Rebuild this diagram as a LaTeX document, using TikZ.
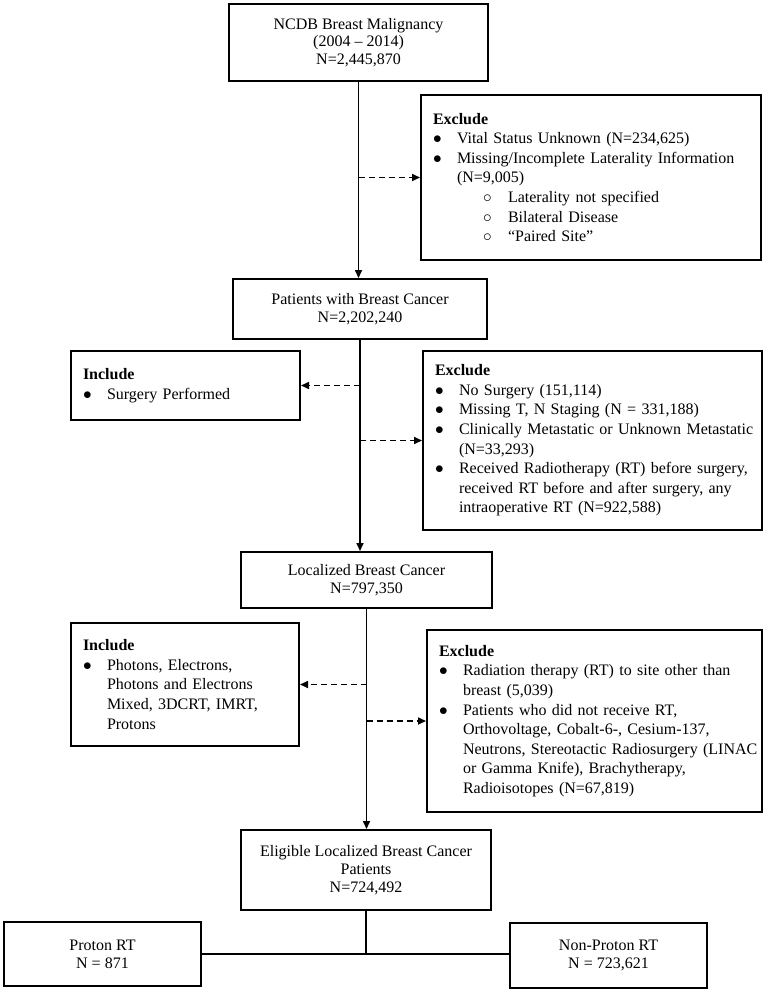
\documentclass[tikz,border=0pt]{standalone}
\usepackage{fontspec}
\setmainfont{Liberation Serif}
\usepackage{tikz}
\usetikzlibrary{positioning}
\usetikzlibrary{arrows.meta}

\newcommand{\itm}[1]{\makebox[24pt][l]{$\bullet$}\mbox{#1}}
\newcommand{\cnt}[1]{\hspace*{24pt}\mbox{#1}}
\newcommand{\subitm}[1]{\makebox[75pt][l]{\hspace*{50pt}$\circ$}\mbox{#1}}

\tikzset{
	mainbox/.style={draw, line width=2pt, align=center, inner sep=0pt, font=\fontsize{16}{17.8}\selectfont},
	listbox/.style={draw, line width=2pt, align=left, inner xsep=12pt, inner ysep=0pt, font=\fontsize{16}{19.6}\selectfont},
	flow/.style={line width=1.6pt, -{Triangle[length=8pt,width=7pt]}},
	side/.style={line width=1.6pt, dash pattern=on 6pt off 4pt, -{Triangle[length=8pt,width=7pt]}},
}

\begin{document}
\begin{tikzpicture}[x=1pt, y=-1pt]
				\useasboundingbox (0,0) rectangle (763,992);
				
				\node[mainbox, minimum width=259pt, minimum height=77pt] (ncdb) at (358.5,42.5) {NCDB Breast Malignancy\\(2004 -- 2014)\\N=2,445,870};
				\node[listbox, text width=316pt, minimum height=165pt] (excl1) at (591,177.5) {\textbf{Exclude}\\
					\itm{Vital Status Unknown (N=234,625)}\\
					\itm{Missing/Incomplete Laterality Information}\\
					\cnt{(N=9,005)}\\
					\subitm{Laterality not specified}\\
					\subitm{Bilateral Disease}\\
					\subitm{``Paired Site''}};
				\node[mainbox, minimum width=254pt, minimum height=60pt] (patients) at (360,309) {Patients with Breast Cancer\\N=2,202,240};
				\node[listbox, text width=205pt, minimum height=69pt] (incl1) at (185.5,385.5) {\textbf{Include}\\
					\itm{Surgery Performed}};
				\node[listbox, text width=315pt, minimum height=179pt] (excl2) at (592.5,440.5) {\textbf{Exclude}\\
					\itm{No Surgery (151,114)}\\
					\itm{Missing T, N Staging (N = 331,188)}\\
					\itm{Clinically Metastatic or Unknown Metastatic}\\
					\cnt{(N=33,293)}\\
					\itm{Received Radiotherapy (RT) before surgery,}\\
					\cnt{received RT before and after surgery, any}\\
					\cnt{intraoperative RT (N=922,588)}};
				\node[mainbox, minimum width=251pt, minimum height=56pt] (localized) at (366.5,580) {Localized Breast Cancer\\N=797,350};
				\node[listbox, text width=204pt, minimum height=123pt] (incl2) at (185,684.5) {\textbf{Include}\\
					\itm{Photons, Electrons,}\\
					\cnt{Photons and Electrons}\\
					\cnt{Mixed, 3DCRT, IMRT,}\\
					\cnt{Protons}};
				\node[listbox, text width=311pt, minimum height=182pt] (excl3) at (594.5,721) {\textbf{Exclude}\\
					\itm{Radiation therapy (RT) to site other than}\\
					\cnt{breast (5,039)}\\
					\itm{Patients who did not receive RT,}\\
					\cnt{Orthovoltage, Cobalt-6-, Cesium-137,}\\
					\cnt{Neutrons, Stereotactic Radiosurgery (LINAC}\\
					\cnt{or Gamma Knife), Brachytherapy,}\\
					\cnt{Radioisotopes (N=67,819)}};
				\node[mainbox, minimum width=250pt, minimum height=80pt] (eligible) at (366,870) {Eligible Localized Breast Cancer\\Patients\\N=724,492};
				\node[mainbox, minimum width=197pt, minimum height=64pt] (proton) at (102.5,954) {Proton RT\\N = 871};
				\node[mainbox, minimum width=197pt, minimum height=65pt] (nonproton) at (608.5,955.5) {Non-Proton RT\\N = 723,621};
				
				\draw[flow]  (ncdb.south) -- (ncdb.south |- patients.north);
				\draw[side]  (ncdb.south |- excl1.west) -- (excl1.west);
				\draw[flow]  (patients.south) -- (patients.south |- localized.north);
				\draw[side]  (patients.south |- incl1.east) -- (incl1.east);
				\draw[side]  (patients.south |- excl2.west) -- (excl2.west);
				\draw[flow]  (localized.south) -- (localized.south |- eligible.north);
				\draw[side]  (localized.south |- incl2.east) -- (incl2.east);
				\draw[side]  (localized.south |- excl3.west) -- (excl3.west);
				\draw[line width=2pt]  (eligible.south) -- (eligible.south |- proton.east);
				\draw[line width=2pt]  (proton.east) -- (proton.east -| nonproton.west);
			\end{tikzpicture}
\end{document}
